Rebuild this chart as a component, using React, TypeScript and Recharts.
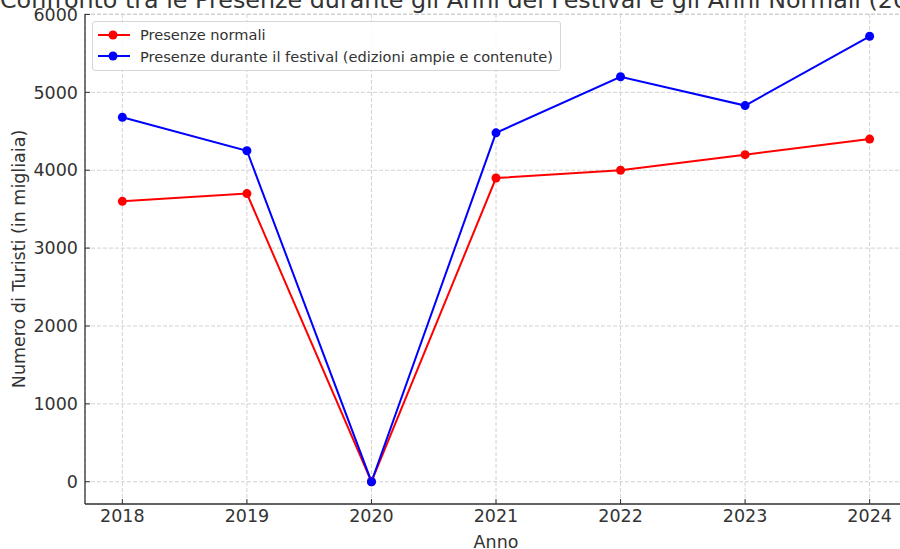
import React from "react";
import { LineChart, Line, XAxis, YAxis, CartesianGrid, Legend } from "recharts";

const years = [2018, 2019, 2020, 2021, 2022, 2023, 2024];
const normali = [3600, 3700, 0, 3900, 4000, 4200, 4400];
const festival = [4680, 4250, 0, 4480, 5200, 4830, 5720];
const yTicks = [0, 1000, 2000, 3000, 4000, 5000, 6000];
const seriesNames = [
  "Presenze normali",
  "Presenze durante il festival (edizioni ampie e contenute)",
];

const data = years.map((anno, i) => ({
  anno,
  normali: normali[i],
  festival: festival[i],
}));

const FONT = "'DejaVu Sans', sans-serif";
const TEXT = "#333";
const TICK_FONT = 17.5;

function LegendBox({ payload }: any) {
  const items = [...(payload || [])].sort(
    (a: any, b: any) => seriesNames.indexOf(a.value) - seriesNames.indexOf(b.value)
  );
  return (
    <div
      style={{
        border: "1px solid #d6d6d6",
        borderRadius: 3,
        background: "rgba(255,255,255,0.85)",
        padding: "2px 7px 3px 4px",
        fontFamily: FONT,
        fontSize: 14.6,
        color: TEXT,
        lineHeight: "21.6px",
        whiteSpace: "nowrap",
      }}
    >
      {items.map((p: any) => (
        <div key={p.value} style={{ display: "flex", alignItems: "center" }}>
          <svg width={43} height={14}>
            <line x1={1} y1={7} x2={33} y2={7} stroke={p.color} strokeWidth={2} />
            <circle cx={16} cy={7} r={4.5} fill={p.color} />
          </svg>
          <span>{p.value}</span>
        </div>
      ))}
    </div>
  );
}

export default function App() {
  return (
    <div
      style={{
        position: "absolute",
        left: 0,
        top: 0,
        width: 900,
        height: 549,
        overflow: "hidden",
        background: "#fff",
      }}
    >
      <div
        style={{
          position: "absolute",
          left: 0,
          top: -11,
          width: 992,
          textAlign: "center",
          whiteSpace: "nowrap",
          fontFamily: FONT,
          fontSize: 23.8,
          lineHeight: 1,
          color: TEXT,
        }}
      >
        Confronto tra le Presenze durante gli Anni del Festival e gli Anni Normali (2018-2024)
      </div>
      <LineChart
        width={910}
        height={549}
        data={data}
        margin={{ top: 14, right: 3, left: 0, bottom: 0 }}
        style={{ fontFamily: FONT }}
      >
        <CartesianGrid stroke="#d2d2d2" strokeDasharray="4 2" />
        <XAxis
          dataKey="anno"
          type="number"
          domain={[2017.7, 2024.3]}
          ticks={years}
          allowDataOverflow
          height={45}
          tickSize={-5}
          tickMargin={11}
          tick={{ fontSize: TICK_FONT, fill: TEXT }}
          tickLine={{ stroke: "#333" }}
          axisLine={{ stroke: "#333", strokeWidth: 1.3 }}
          label={{ value: "Anno", position: "insideBottom", offset: 1, fontSize: TICK_FONT, fill: TEXT }}
        />
        <YAxis
          type="number"
          domain={[-286, 6006]}
          ticks={yTicks}
          allowDataOverflow
          width={85}
          tickSize={-5}
          tickMargin={12}
          tick={{ fontSize: TICK_FONT, fill: TEXT }}
          tickLine={{ stroke: "#333" }}
          axisLine={{ stroke: "#333", strokeWidth: 1.3 }}
          label={{
            value: "Numero di Turisti (in migliaia)",
            angle: -90,
            position: "insideLeft",
            offset: 19,
            fontSize: TICK_FONT,
            fill: TEXT,
            style: { textAnchor: "middle" },
          }}
        />
        <Legend
          layout="horizontal"
          verticalAlign="middle"
          align="center"
          content={<LegendBox />}
          wrapperStyle={{ position: "absolute", left: 92, top: 21, width: "auto" }}
        />
        <Line
          dataKey="normali"
          name={seriesNames[0]}
          stroke="#ff0000"
          strokeWidth={2}
          dot={{ r: 4.5, fill: "#ff0000", stroke: "#ff0000", strokeWidth: 0 }}
          activeDot={false}
          isAnimationActive={false}
        />
        <Line
          dataKey="festival"
          name={seriesNames[1]}
          stroke="#0000ff"
          strokeWidth={2}
          dot={{ r: 4.5, fill: "#0000ff", stroke: "#0000ff", strokeWidth: 0 }}
          activeDot={false}
          isAnimationActive={false}
        />
      </LineChart>
    </div>
  );
}
